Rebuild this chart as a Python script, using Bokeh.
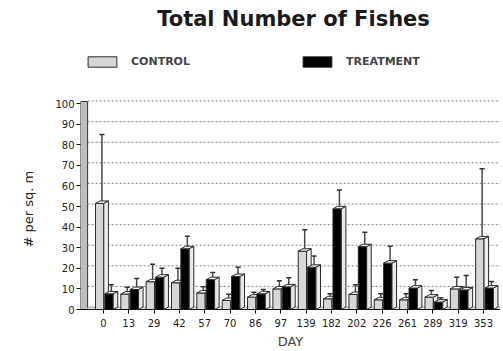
from bokeh.plotting import figure
from bokeh.models import Range1d, Label, Legend, LegendItem, FixedTicker, Title
from bokeh.embed import file_html
from bokeh.resources import INLINE

# ---- data ----
days = ["0", "13", "29", "42", "57", "70", "86", "97", "139", "182", "202", "226", "261", "289", "319", "353"]
control = [51.5, 7.5, 13.5, 13.0, 8.0, 4.4, 6.0, 10.0, 28.3, 5.2, 7.3, 4.7, 4.7, 6.0, 10.0, 34.3]
control_err = [33.5, 3.3, 8.5, 7.0, 3.0, 3.0, 2.4, 4.0, 10.4, 2.4, 4.7, 2.9, 2.9, 3.2, 5.7, 34.0]
treatment = [7.6, 9.7, 15.7, 29.5, 14.5, 16.0, 7.6, 11.0, 20.5, 48.9, 30.5, 22.5, 10.4, 3.6, 9.5, 10.4]
treatment_err = [4.4, 5.3, 4.3, 6.1, 3.5, 4.5, 2.1, 4.4, 5.5, 9.1, 7.0, 8.2, 4.1, 2.1, 7.0, 3.2]
y_ticks = [0, 10, 20, 30, 40, 50, 60, 70, 80, 90, 100]

# ---- styling / geometry constants ----
X0, X1 = -0.9, 15.67
Y0, YTOP = 0, 150          # frame extends up to canvas top (room for title/legend)
YWALL = 101
W = 0.33      # front face width (category units)
DX = 0.18     # depth offset x
DY = 1.2      # depth offset y
C_OFF = -0.31
T_OFF = 0.06
WALL = 0.28
OUT = "#2a2a2a"
FONT = "DejaVu Sans"

idx = list(range(len(days)))

p = figure(width=500, height=351, output_backend="svg", toolbar_location=None,
           x_range=Range1d(X0, X1), y_range=Range1d(Y0, YTOP),
           min_border_left=80, min_border_right=0, min_border_top=0, min_border_bottom=42)
p.outline_line_color = None
p.xgrid.visible = False
p.ygrid.visible = False

# back wall and floor
p.quad(left=[X0], right=[X0 + WALL], bottom=[0], top=[YWALL], fill_color="#bdbdbd", line_color="#333333", line_width=1)
p.quad(left=[X0 + WALL], right=[X1], bottom=[0], top=[DY], fill_color="#e4e4e4", line_color="#888888", line_width=0.8)

# dotted grid on back wall
p.segment(x0=[X0 + WALL] * 10, x1=[X1] * 10, y0=[t + DY for t in y_ticks[1:]], y1=[t + DY for t in y_ticks[1:]],
          line_color="#808080", line_dash="2 2", line_width=1)


def bars3d(vals, off, front, side, top):
    l = [i + off for i in idx]
    r = [i + off + W for i in idx]
    fr = p.quad(left=l, right=r, bottom=[0] * len(idx), top=vals, fill_color=front, line_color=OUT, line_width=1)
    xs_side = [[ri, ri + DX, ri + DX, ri] for ri in r]
    ys_side = [[0, DY, v + DY, v] for v in vals]
    p.patches(xs_side, ys_side, fill_color=side, line_color=OUT, line_width=1)
    xs_top = [[li, li + DX, ri + DX, ri] for li, ri in zip(l, r)]
    ys_top = [[v, v + DY, v + DY, v] for v in vals]
    p.patches(xs_top, ys_top, fill_color=top, line_color=OUT, line_width=1)
    return fr


def errbars(vals, errs, off):
    xc = [i + off + (W + DX) / 2 for i in idx]
    p.segment(x0=xc, x1=xc, y0=[v + DY for v in vals], y1=[v + e for v, e in zip(vals, errs)],
              line_color="#4a4a4a", line_width=1.5)
    p.segment(x0=[x - 0.1 for x in xc], x1=[x + 0.1 for x in xc],
              y0=[v + e for v, e in zip(vals, errs)], y1=[v + e for v, e in zip(vals, errs)],
              line_color="#333333", line_width=1.5)


c_r = bars3d(control, C_OFF, "#d6d6d6", "#eeeeee", "#f4f4f4")
t_r = bars3d(treatment, T_OFF, "#000000", "#e8e8e8", "#f0f0f0")
errbars(control, control_err, C_OFF)
errbars(treatment, treatment_err, T_OFF)

# axes
p.yaxis.ticker = FixedTicker(ticks=y_ticks)
p.yaxis.minor_tick_line_color = None
p.yaxis.major_tick_out = 4
p.yaxis.major_tick_in = 0
p.yaxis.major_label_standoff = 2
p.yaxis.major_label_text_font = FONT
p.yaxis.major_label_text_font_size = "10px"
p.yaxis.major_label_text_color = "#222222"
p.yaxis.axis_line_color = None
p.yaxis.major_tick_line_color = "#111111"

# y-axis title (placed in left panel, positioned alongside the 0-100 wall)
p.add_layout(Title(text="# per sq. m", align="left", offset=62, standoff=30, vertical_align="top",
                   text_font=FONT, text_font_size="13px", text_font_style="normal",
                   text_color="#222222"), "left")

p.xaxis.ticker = FixedTicker(ticks=idx)
p.xaxis.major_label_overrides = {i: d for i, d in zip(idx, days)}
p.xaxis.minor_tick_line_color = None
p.xaxis.major_tick_out = 4
p.xaxis.major_tick_in = 0
p.xaxis.major_label_standoff = 5
p.xaxis.major_label_text_font = FONT
p.xaxis.major_label_text_font_size = "10px"
p.xaxis.major_label_text_color = "#222222"
p.xaxis.axis_label = "DAY"
p.xaxis.axis_label_text_font = FONT
p.xaxis.axis_label_text_font_size = "13px"
p.xaxis.axis_label_text_font_style = "normal"
p.xaxis.axis_label_standoff = 4
p.xaxis.axis_line_color = "#111111"

# title
p.add_layout(Label(x=213, y=291, x_units="screen", y_units="screen", text="Total Number of Fishes",
                   text_font=FONT, text_font_size="21px", text_font_style="bold",
                   text_align="center", text_baseline="middle", text_color="#1a1a1a"))

# legends
for name, rend, loc in [("CONTROL", c_r, (4, 241)), ("TREATMENT", t_r, (219, 241))]:
    lg = Legend(items=[LegendItem(label=name, renderers=[rend])], location=loc,
                orientation="horizontal", glyph_width=36, glyph_height=13, label_height=13,
                label_standoff=11, padding=0, margin=0, border_line_color=None,
                background_fill_alpha=0, label_text_font=FONT, label_text_font_size="11px",
                label_text_font_style="bold", label_text_color="#444444", label_text_baseline="middle")
    p.add_layout(lg, "center")

open("out.html", "w").write(file_html(p, INLINE))
